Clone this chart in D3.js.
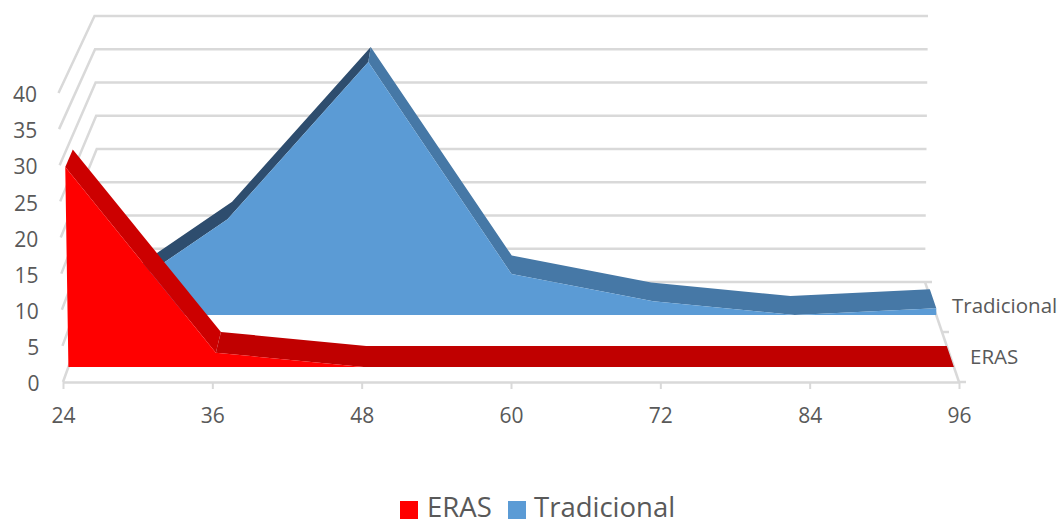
<!DOCTYPE html>
<html>
<head>
<meta charset="utf-8">
<script src="https://cdn.jsdelivr.net/npm/d3@7"></script>
<style>
  html, body { margin: 0; padding: 0; background: #fff; }
  svg { display: block; }
  text { font-family: "Open Sans", "Noto Sans", sans-serif; fill: #595959; }
</style>
</head>
<body>
<svg id="chart"></svg>
<script>
// Values
const months = [24, 36, 48, 60, 72, 84, 96];
const erasValues = [28, 2, 0, 0, 0, 0, 0];
const tradicionalValues = [0, 14, 37, 6, 2, 0, 1];
const yTicks = [0, 5, 10, 15, 20, 25, 30, 35, 40];
const seriesNames = ["ERAS", "Tradicional"];

const width = 1060;
const height = 525;

const svg = d3.select("#chart").attr("width", width).attr("height", height);

// Fake 3D: the front edge of the floor and the back wall each get their own scales,
// and a depth of 0..1 blends between the two.
const xFront = d3.scaleLinear().domain([24, 96]).range([63, 959]);
const xBack = d3.scaleLinear().domain([24, 96]).range([99, 925]);
const yFront = d3.scaleLinear().domain([0, 40]).range([382, 93]);
const yBack = d3.scaleLinear().domain([0, 40]).range([282, 16]);
// vertical lines lean outward the higher they go
const lean = d3.scaleLinear().domain([24, 96]).range([-4.5, 3]);

function project(month, value, depth) {
  const x = xFront(month) + (xBack(month) - xFront(month)) * depth;
  const y = yFront(value) + (yBack(value) - yFront(value)) * depth;
  return [x + lean(month) * value / 40, y];
}

const line = d3.line();

// ---------------- WALLS ----------------
const grid = svg.append("g")
  .attr("fill", "none")
  .attr("stroke", "#d9d9d9")
  .attr("stroke-width", 2.5);

yTicks.forEach(v => {
  grid.append("path").attr("d", line([
    project(24, v, 0),
    project(24, v, 1),
    project(96, v, 1)
  ]));
});

// right edge of the floor with its depth ticks
grid.append("path").attr("d", line([project(96, 0, 0), project(96, 0, 1)]));
[0, 0.5, 1].forEach(depth => {
  const p = project(96, 0, depth);
  grid.append("path").attr("d", line([p, [p[0] + 7, p[1]]]));
});

// ---------------- AREAS ----------------
function drawSeries(values, depthFront, depthBack, frontColor, topColor) {
  const g = svg.append("g");
  // top surface, neighbouring segments with the same shade become one strip
  const strips = [];
  values.slice(1).forEach((v, i) => {
    const color = topColor(v - values[i]);
    const last = strips[strips.length - 1];
    if (last && last.color === color) last.idx.push(i + 1);
    else strips.push({ color, idx: [i, i + 1] });
  });
  strips.forEach(s => {
    const front = s.idx.map(i => project(months[i], values[i], depthFront));
    const back = s.idx.map(i => project(months[i], values[i], depthBack)).reverse();
    g.append("path")
      .attr("fill", s.color)
      .attr("d", line(front.concat(back)) + "Z");
  });
  // front face
  const outline = months.map((m, i) => project(m, values[i], depthFront));
  outline.push(project(96, 0, depthFront), project(24, 0, depthFront));
  g.append("path").attr("fill", frontColor).attr("d", line(outline) + "Z");
}

drawSeries(tradicionalValues, 0.67, 0.86, "#5b9bd5", d => d > 5 ? "#2e4d6e" : "#4678a6");
drawSeries(erasValues, 0.15, 0.36, "#ff0000", d => d < -5 ? "#cc0000" : "#c00000");

// ---------------- AXES ----------------
const xAxis = svg.append("g")
  .attr("transform", `translate(0, ${yFront(0)})`)
  .call(d3.axisBottom(xFront).tickValues(months).tickSize(7).tickPadding(19).tickSizeOuter(0));
xAxis.select(".domain").attr("stroke", "#d9d9d9").attr("stroke-width", 2.5);
xAxis.selectAll(".tick line").attr("stroke", "#d9d9d9").attr("stroke-width", 2);

const yAxis = svg.append("g")
  .attr("transform", "translate(37, 2)")
  .call(d3.axisLeft(yFront).tickValues(yTicks).tickSize(0).tickPadding(0));
yAxis.select(".domain").remove();
// the labels follow the slant of the left wall
yAxis.selectAll(".tick text").attr("x", d => 2.5 - d / 16);

[xAxis, yAxis].forEach(a => a.selectAll("text")
  .style("font-size", "21px")
  .style("font-family", '"Open Sans", sans-serif')
  .style("fill", "#595959"));

// series names on the depth axis
svg.append("text").attr("x", 952).attr("y", 313).style("font-size", "20.5px").text(seriesNames[1]);
svg.append("text").attr("x", 970).attr("y", 364).style("font-size", "20.5px").text(seriesNames[0]);

// ---------------- LEGEND ----------------
const legendColors = ["#ff0000", "#5b9bd5"];
const legendX = [400, 508];
const legendLabelX = [427, 534];
seriesNames.forEach((name, i) => {
  svg.append("rect")
    .attr("x", legendX[i]).attr("y", 501)
    .attr("width", 18).attr("height", 18)
    .attr("fill", legendColors[i]);
  svg.append("text")
    .attr("x", legendLabelX[i]).attr("y", 517)
    .style("font-size", "27.5px")
    .text(name);
});
</script>
</body>
</html>
